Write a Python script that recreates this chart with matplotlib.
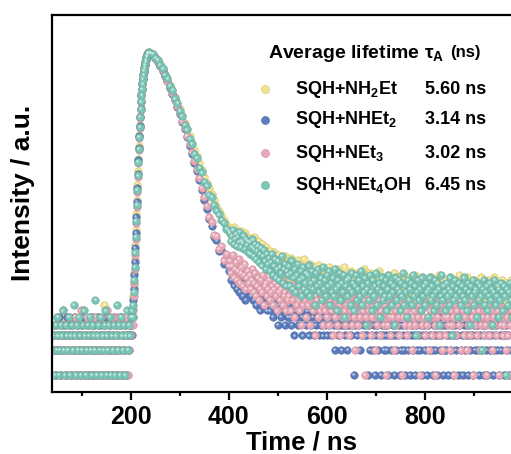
import numpy as np
import matplotlib
matplotlib.use('Agg')
import matplotlib.pyplot as plt
import matplotlib.colors as mcolors
from matplotlib.ticker import NullLocator
from matplotlib.transforms import offset_copy

plt.rcParams['font.family'] = ['Liberation Sans', 'DejaVu Sans']
plt.rcParams['font.weight'] = 'bold'
plt.rcParams['mathtext.fontset'] = 'custom'
plt.rcParams['mathtext.rm'] = 'Liberation Sans:bold'
plt.rcParams['mathtext.it'] = 'Liberation Sans:bold'
plt.rcParams['mathtext.bf'] = 'Liberation Sans:bold'
plt.rcParams['mathtext.default'] = 'rm'

#%% data (counts per channel)
labels = ['SQH+NH$_2$Et', 'SQH+NHEt$_2$', 'SQH+NEt$_3$', 'SQH+NEt$_4$OH']
lifetimes = ['5.60 ns', '3.14 ns', '3.02 ns', '6.45 ns']
colors = ['#f2e38c', '#5b7cbd', '#e9a8b7', '#7ac6b7']

# channel grids (start, step in ns) for the four parts of every trace
base_grid = (42, 2)     # before the pulse
rise_grid = (204, 1)    # rising edge
early_grid = (240, 5)   # fast part of the decay
tail_grid = (402, 2)    # slow tail

nh2et_base = [2, 3, 1, 4, 2, 3, 4, 1, 3, 2, 5, 3, 4, 2, 1, 3, 5, 2, 3, 1,
              4, 2, 3, 5, 1, 2, 3, 4, 2, 1, 6, 3, 2, 4, 1, 3, 2, 5, 1, 3,
              4, 2, 1, 3, 5, 2, 4, 1, 3, 2, 4, 3, 7, 1, 2, 4, 3, 1, 5, 2,
              3, 4, 1, 2, 3, 5, 2, 1, 4, 3, 2, 5, 1, 3, 4, 2, 1, 3, 5, 4, 6]
nh2et_rise = [6, 9, 12, 17, 25, 37, 56, 86, 130, 195, 285, 405, 570, 780, 1020,
              1320, 1660, 2020, 2420, 2840, 3280, 3730, 4180, 4630, 5080, 5520,
              5960, 6370, 6770, 7080, 7380, 7580, 7680, 7720]
nh2et_early = [7650, 7350, 6750, 6200, 5500, 4900, 4250, 3700, 3150, 2700, 2250,
               1900, 1600, 1330, 1100, 920, 760, 630, 520, 430, 355, 295, 245,
               205, 178, 150, 128, 110, 95, 84, 74, 66, 59]
nh2et_tail = [56, 48, 53, 44, 60, 41, 51, 47, 55, 39, 50, 45, 55, 37, 48, 42, 51, 35, 45, 40,
              37, 45, 31, 40, 35, 46, 28, 37, 33, 41, 26, 34, 30, 38, 24, 32, 27, 35, 22, 29,
              25, 31, 20, 27, 23, 30, 18, 25, 21, 28, 17, 23, 26, 15, 22, 19, 27, 14, 21, 18,
              23, 15, 20, 26, 13, 18, 22, 12, 19, 16, 24, 11, 17, 21, 14, 19, 25, 12, 16, 20,
              13, 18, 22, 10, 16, 14, 20, 9, 17, 12, 21, 15, 11, 18, 8, 16, 19, 13, 10, 17,
              14, 20, 9, 15, 12, 18, 8, 16, 13, 11, 19, 7, 14, 17, 10, 15, 12, 20, 9, 13,
              16, 8, 13, 11, 18, 10, 14, 6, 15, 12, 17, 9, 13, 11, 16, 7, 14, 19, 10, 12,
              9, 15, 12, 17, 8, 13, 11, 16, 5, 14, 10, 12, 18, 9, 13, 7, 15, 11, 14, 10,
              13, 8, 16, 11, 14, 6, 12, 10, 17, 9, 13, 11, 15, 7, 12, 14, 2, 10, 16, 11,
              9, 14, 11, 7, 15, 10, 13, 8, 12, 16, 9, 11, 6, 14, 10, 13, 8, 15, 11, 12,
              10, 7, 14, 12, 9, 15, 11, 3, 13, 10, 8, 14, 12, 9, 16, 6, 11, 13, 10, 8,
              14, 9, 12, 5, 11, 15, 10, 8, 13, 11, 7, 14, 9, 12, 16, 10, 1, 11, 13, 8,
              12, 10, 15, 7, 11, 9, 13, 6, 12, 14, 8, 10, 11, 4, 13, 9, 15, 10, 7, 12,
              9, 13, 11, 8, 14, 10, 2, 12, 9, 11, 15, 7, 10, 13, 8, 12, 6, 11, 14, 9,
              11, 8, 13, 10, 6, 12, 9, 14, 11, 3, 10, 13, 8, 12, 9, 11, 7, 10, 13, 9]

nhet2_base = [3, 2, 4, 1, 2, 3, 5, 2, 1, 3, 4, 2, 3, 1, 5, 2, 3, 4, 1, 2,
              3, 5, 2, 1, 4, 3, 2, 1, 3, 4, 2, 5, 1, 3, 2, 4, 1, 3, 2, 5,
              3, 1, 4, 2, 3, 1, 5, 2, 4, 3, 1, 2, 4, 3, 5, 1, 2, 3, 4, 2,
              1, 3, 5, 2, 4, 1, 3, 2, 4, 5, 1, 3, 2, 4, 1, 3, 5, 2, 3, 4, 3]
nhet2_rise = [5, 8, 11, 16, 23, 34, 52, 80, 122, 180, 265, 385, 545, 750, 990,
              1280, 1610, 1960, 2350, 2760, 3190, 3630, 4070, 4510, 4950, 5380,
              5800, 6200, 6600, 6900, 7200, 7400, 7500, 7550]
nhet2_early = [7450, 7100, 6500, 5950, 5250, 4650, 4000, 3450, 2900, 2450, 2040,
               1680, 1380, 1120, 910, 730, 580, 460, 362, 284, 222, 170, 130,
               100, 76, 62, 46, 42, 31, 32, 22, 25, 18]
nhet2_tail = [20, 14, 17, 22, 12, 16, 20, 11, 15, 18, 10, 14, 16, 9, 13, 17, 8, 12, 14, 10,
              13, 9, 11, 15, 8, 10, 13, 7, 11, 9, 12, 6, 10, 8, 11, 7, 9, 10, 6, 8,
              9, 6, 8, 10, 5, 7, 9, 6, 8, 4, 7, 9, 5, 8, 6, 7, 4, 8, 6, 5,
              7, 5, 8, 4, 6, 7, 3, 6, 5, 7, 4, 6, 8, 5, 3, 6, 5, 7, 4, 6,
              5, 3, 6, 4, 7, 5, 3, 6, 4, 5, 7, 3, 5, 4, 6, 3, 5, 4, 6, 3,
              5, 4, 6, 3, 5, 7, 4, 2, 5, 4, 6, 3, 5, 4, 2, 6, 4, 5, 3, 4,
              2, 5, 4, 6, 3, 4, 5, 1, 4, 6, 3, 5, 4, 2, 5, 3, 6, 4, 3, 5,
              3, 1, 4, 2, 5, 3, 2, 4, 1, 3, 4, 2, 5, 3, 1, 4, 3, 2, 4, 3,
              2, 4, 1, 3, 5, 2, 3, 4, 1, 3, 2, 5, 3, 4, 1, 2, 4, 3, 2, 1,
              4, 3, 2, 5, 1, 3, 4, 2, 3, 1, 4, 2, 5, 3, 2, 4, 1, 3, 4, 2,
              3, 1, 4, 2, 3, 5, 2, 1, 4, 3, 2, 4, 1, 3, 5, 2, 3, 4, 1, 2,
              4, 2, 3, 1, 5, 3, 2, 4, 1, 3, 4, 2, 3, 1, 4, 5, 2, 3, 1, 4,
              2, 3, 4, 1, 3, 2, 5, 3, 1, 4, 2, 3, 4, 2, 1, 3, 5, 2, 4, 1,
              3, 4, 2, 1, 3, 5, 2, 3, 4, 1, 2, 3, 4, 2, 5, 1, 3, 2, 4, 3,
              1, 3, 4, 2, 3, 1, 5, 2, 4, 3, 2, 1, 4, 3, 2, 5, 3, 1, 4, 2]

net3_base = [2, 4, 1, 3, 5, 2, 3, 1, 4, 2, 6, 3, 1, 4, 2, 3, 5, 1, 2, 4,
             3, 1, 5, 2, 3, 4, 1, 2, 6, 3, 4, 1, 2, 3, 5, 1, 4, 2, 3, 1,
             4, 2, 5, 1, 3, 2, 4, 3, 1, 5, 2, 3, 4, 1, 2, 6, 3, 1, 4, 2,
             3, 5, 1, 2, 4, 3, 1, 5, 2, 4, 3, 1, 2, 4, 5, 3, 1, 2, 4, 3, 5]
net3_rise = [4, 6, 9, 13, 19, 28, 44, 68, 106, 162, 245, 355, 510, 715, 950,
             1240, 1570, 1930, 2320, 2740, 3180, 3630, 4080, 4530, 4980, 5420,
             5850, 6250, 6650, 6950, 7250, 7450, 7550, 7600]
net3_early = [7500, 7150, 6550, 6000, 5300, 4700, 4050, 3500, 2950, 2500, 2080,
              1720, 1420, 1160, 950, 760, 610, 480, 380, 300, 235, 180, 140, 108,
              80, 70, 49, 47, 33, 36, 24, 29, 21]
net3_tail = [24, 17, 21, 28, 15, 19, 23, 14, 18, 25, 13, 17, 20, 12, 16, 22, 11, 15, 18, 13,
             16, 11, 14, 19, 10, 13, 17, 9, 12, 15, 8, 11, 14, 10, 16, 7, 12, 13, 9, 11,
             14, 8, 10, 12, 7, 11, 13, 9, 6, 12, 10, 8, 11, 14, 7, 9, 10, 6, 12, 8,
             9, 11, 6, 10, 8, 12, 5, 9, 7, 11, 8, 6, 10, 4, 9, 7, 11, 8, 5, 10,
             7, 9, 4, 8, 10, 6, 7, 3, 9, 8, 5, 10, 6, 7, 9, 4, 8, 6, 11, 5,
             7, 4, 8, 6, 9, 3, 7, 5, 8, 10, 4, 6, 7, 3, 8, 5, 9, 6, 4, 7,
             5, 8, 3, 6, 9, 4, 7, 5, 2, 8, 6, 4, 9, 5, 7, 3, 6, 8, 1, 5,
             7, 4, 6, 9, 3, 5, 8, 6, 2, 7, 4, 5, 8, 3, 6, 9, 5, 4, 7, 1,
             6, 4, 8, 5, 3, 7, 5, 9, 2, 6, 4, 7, 5, 3, 8, 6, 1, 5, 7, 4,
             6, 3, 5, 8, 4, 7, 2, 5, 6, 4, 9, 3, 5, 7, 1, 6, 4, 8, 5, 3,
             7, 4, 5, 2, 6, 8, 3, 5, 7, 4, 1, 6, 5, 8, 3, 4, 7, 2, 6, 5,
             3, 7, 5, 4, 8, 2, 6, 4, 5, 1, 7, 3, 6, 5, 4, 8, 2, 5, 6, 3,
             5, 7, 2, 4, 6, 3, 8, 5, 1, 6, 4, 7, 3, 5, 6, 2, 4, 7, 5, 3,
             6, 4, 1, 5, 7, 3, 4, 6, 2, 5, 8, 4, 3, 6, 5, 1, 7, 4, 5, 3,
             4, 6, 2, 5, 3, 7, 4, 1, 6, 5, 3, 4, 7, 2, 5, 4, 6, 3, 1, 5]

net4oh_base = [3, 1, 4, 2, 5, 3, 1, 2, 4, 3, 6, 2, 1, 4, 3, 2, 5, 1, 3, 4,
               2, 7, 3, 1, 4, 2, 5, 3, 1, 2, 4, 6, 3, 1, 2, 4, 3, 5, 2, 1,
               4, 3, 2, 8, 1, 3, 4, 2, 5, 1, 3, 2, 4, 6, 1, 3, 2, 4, 5, 1,
               3, 2, 4, 1, 3, 7, 2, 4, 1, 5, 3, 2, 4, 1, 3, 6, 2, 4, 3, 5, 6]
net4oh_rise = [5, 7, 10, 14, 20, 30, 46, 72, 112, 170, 255, 370, 530, 740, 980,
               1280, 1620, 1980, 2380, 2800, 3250, 3700, 4150, 4600, 5050, 5500,
               5950, 6350, 6750, 7050, 7350, 7550, 7650, 7700]
net4oh_early = [7600, 7400, 6600, 6250, 5400, 4950, 4150, 3750, 3050, 2700, 2150,
                1900, 1520, 1330, 1030, 910, 700, 610, 465, 410, 315, 275, 212,
                192, 148, 139, 112, 96, 86, 74, 68, 58, 55]
net4oh_tail = [52, 41, 47, 56, 38, 44, 50, 36, 46, 40, 53, 35, 42, 39, 48, 33, 44, 37, 41, 30,
               40, 29, 35, 43, 27, 33, 38, 25, 31, 36, 23, 29, 34, 21, 27, 32, 24, 19, 29, 22,
               26, 18, 23, 29, 16, 21, 25, 15, 19, 24, 14, 20, 17, 27, 13, 19, 22, 12, 18, 16,
               21, 12, 17, 24, 11, 15, 19, 10, 16, 22, 12, 14, 18, 9, 15, 20, 11, 13, 17, 10,
               16, 21, 9, 13, 18, 11, 14, 7, 17, 12, 19, 10, 13, 15, 8, 20, 11, 14, 9, 16,
               12, 18, 7, 13, 10, 15, 9, 19, 11, 6, 14, 12, 17, 8, 13, 10, 16, 5, 12, 14,
               9, 15, 11, 7, 17, 10, 13, 6, 12, 16, 8, 11, 14, 9, 18, 7, 12, 10, 15, 4,
               11, 13, 8, 16, 10, 6, 14, 9, 12, 17, 7, 11, 13, 5, 10, 15, 8, 12, 9, 14,
               6, 11, 16, 9, 13, 7, 10, 12, 4, 15, 8, 11, 14, 10, 6, 13, 9, 17, 7, 12,
               10, 5, 14, 8, 11, 13, 7, 16, 9, 12, 3, 10, 14, 8, 11, 6, 15, 9, 12, 7,
               13, 10, 5, 11, 15, 8, 12, 9, 6, 14, 10, 7, 13, 11, 4, 9, 16, 8, 12, 10,
               6, 13, 9, 11, 7, 15, 10, 3, 12, 8, 14, 9, 11, 5, 13, 10, 7, 12, 9, 15,
               8, 11, 6, 13, 10, 4, 12, 9, 14, 7, 10, 11, 5, 13, 8, 12, 9, 2, 11, 14,
               7, 10, 12, 6, 9, 13, 8, 11, 4, 10, 14, 7, 9, 12, 5, 11, 8, 13, 10, 6,
               12, 9, 1, 11, 7, 10, 13, 8, 5, 12, 9, 11, 6, 10, 14, 8, 3, 11, 9, 7]

series = [(nh2et_base, nh2et_rise, nh2et_early, nh2et_tail),
          (nhet2_base, nhet2_rise, nhet2_early, nhet2_tail),
          (net3_base, net3_rise, net3_early, net3_tail),
          (net4oh_base, net4oh_rise, net4oh_early, net4oh_tail)]
grids = [base_grid, rise_grid, early_grid, tail_grid]


def build(parts):
    t = np.concatenate([t0 + dt * np.arange(len(p)) for p, (t0, dt) in zip(parts, grids)])
    c = np.concatenate(parts).astype(float)
    return t, c


def shade(col, other, frac):
    a = np.array(mcolors.to_rgb(col))
    b = np.array(mcolors.to_rgb(other))
    return tuple(a * (1 - frac) + b * frac)


#%% figure
W, H = 511, 454
fig = plt.figure(figsize=(W / 100, H / 100), dpi=100)
ax = fig.add_axes([52.3 / W, (H - 392) / H, 470.4 / W, (392 - 15) / H])
ax.set_yscale('log')
ax.set_xlim(40, 1000)
ax.set_ylim(0.624, 21700)

hl = offset_copy(ax.transData, fig=fig, x=-0.5, y=0.5, units='points')
for parts, col in zip(series, colors):
    t, c = build(parts)
    ax.plot(t, c, 'o', ls='none', ms=5.4, mfc=col, mec=shade(col, 'k', 0.15), mew=0.4)
    ax.plot(t, c, 'o', ls='none', ms=1.8, mfc=shade(col, 'w', 0.6), mec='none',
            transform=hl)

# axes styling
for s in ax.spines.values():
    s.set_linewidth(1.6)
ax.yaxis.set_major_locator(NullLocator())
ax.yaxis.set_minor_locator(NullLocator())
ax.set_xticks([200, 400, 600, 800])
ax.set_xticks([100, 300, 500, 700, 900], minor=True)
ax.tick_params(axis='x', which='major', direction='out', length=5.5, width=1.6,
               labelsize=18, pad=4)
ax.tick_params(axis='x', which='minor', direction='out', length=3, width=1.6)
ax.tick_params(axis='y', which='both', left=False, labelleft=False)

fig.text(302 / W, 1 - 449 / H, 'Time / ns', ha='center', va='baseline',
         fontsize=18.5, fontweight='bold')
fig.text(23 / W, 1 - 193 / H, 'Intensity / a.u.', ha='center', va='center',
         rotation=90, fontsize=19, fontweight='bold')

# legend drawn by hand
fig.text(268 / W, 1 - 53 / H, 'Average lifetime τ$_A$', ha='left', va='center',
         fontsize=14, fontweight='bold')
fig.text(450 / W, 1 - 53 / H, '(ns)', ha='left', va='center',
         fontsize=12, fontweight='bold')
rows_y = [89, 120, 153, 185]
for lab, tau, col, py in zip(labels, lifetimes, colors, rows_y):
    fy = 1 - py / H
    ax.plot([265 / W], [fy], 'o', ms=5.8, mfc=col, mec=shade(col, 'k', 0.15),
            mew=0.4, transform=fig.transFigure, clip_on=False)
    fig.text(295 / W, fy, lab, ha='left', va='center', fontsize=13, fontweight='bold')
    fig.text(425 / W, fy, tau, ha='left', va='center', fontsize=13, fontweight='bold')

fig.savefig('out.png', dpi=100)
